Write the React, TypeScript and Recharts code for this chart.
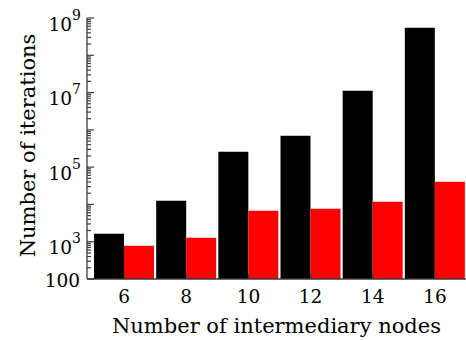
import { BarChart, Bar, XAxis, YAxis, Label } from 'recharts'

const nodes = ['6', '8', '10', '12', '14', '16']
const exactIterations = [1640, 12600, 259000, 697000, 11200000, 548000000]
const heuristicIterations = [781, 1280, 6760, 7670, 11800, 40600]

const yMin = 100
const yMax = 1e9
const labelledTicks = [100, 1e3, 1e5, 1e7, 1e9]

// log ticks: every integer multiple inside each decade, plus the top
const yTicks: number[] = []
for (let e = 2; e < 9; e++) {
  for (let m = 1; m < 10; m++) yTicks.push(m * Math.pow(10, e))
}
yTicks.push(yMax)

const FONT = "'DejaVu Serif', 'Liberation Serif', serif"
const AXIS = '#3a3a3a'
const txt = { fontFamily: FONT }

const data = nodes.map((n, i) => ({
  n,
  exact: exactIterations[i],
  heuristic: heuristicIterations[i],
}))

function YTick(props: any) {
  const { x, y, payload } = props
  const v = payload.value as number
  const lg = Math.log10(v)
  const exp = Math.round(lg)
  const major = Math.abs(lg - exp) < 1e-6
  const labelled = labelledTicks.some((t) => Math.abs(t - v) / t < 1e-6)
  return (
    <g>
      <line x1={x} x2={x + (major ? 7 : 4)} y1={y} y2={y} stroke={AXIS} strokeWidth={1.2} />
      {labelled &&
        (exp === 2 ? (
          <text x={x - 7} y={y + 8} textAnchor="end" fontSize={18.5} style={txt} fill="#000">
            100
          </text>
        ) : (
          <text x={x - 6} y={y + 12.5} textAnchor="end" fontSize={18.5} style={txt} fill="#000">
            10
            <tspan dy={-11} fontSize={14}>
              {exp}
            </tspan>
          </text>
        ))}
    </g>
  )
}

function XTick(props: any) {
  const { x, y, payload } = props
  return (
    <g>
      <line x1={x} x2={x} y1={y} y2={y - 5} stroke={AXIS} strokeWidth={1.2} />
      <text x={x} y={y + 24} textAnchor="middle" fontSize={18.5} style={txt} fill="#000">
        {payload.value}
      </text>
    </g>
  )
}

export default function App() {
  return (
    <div style={{ position: 'absolute', left: 0, top: 0 }}>
      <BarChart
        width={466}
        height={340}
        data={data}
        margin={{ top: 18, right: 0, bottom: 0, left: 0 }}
        barGap={0}
        barCategoryGap={1}
      >
        <XAxis
          dataKey="n"
          height={61}
          padding={{ left: 6, right: 0 }}
          stroke={AXIS}
          strokeWidth={1.3}
          tickLine={false}
          tickSize={0}
          tickMargin={0}
          tick={<XTick />}
          interval={0}
        >
          <Label
            content={({ viewBox }: any) => (
              <text
                x={viewBox.x + viewBox.width / 2}
                y={viewBox.y + 54}
                textAnchor="middle"
                fontSize={21}
                style={txt}
                fill="#000"
              >
                Number of intermediary nodes
              </text>
            )}
          />
        </XAxis>
        <YAxis
          type="number"
          scale="log"
          domain={[yMin, yMax]}
          allowDataOverflow
          ticks={yTicks}
          interval={0}
          width={87}
          stroke={AXIS}
          strokeWidth={1.3}
          tickLine={false}
          tickSize={0}
          tickMargin={0}
          tick={<YTick />}
        >
          <Label
            content={({ viewBox }: any) => {
              const cx = 35
              const cy = viewBox.y + viewBox.height / 2 - 3
              return (
                <text
                  x={cx}
                  y={cy}
                  transform={`rotate(-90 ${cx} ${cy})`}
                  textAnchor="middle"
                  fontSize={21}
                  style={txt}
                  fill="#000"
                >
                  Number of iterations
                </text>
              )
            }}
          />
        </YAxis>
        <Bar dataKey="exact" fill="#000000" isAnimationActive={false} />
        <Bar dataKey="heuristic" fill="#ff0000" isAnimationActive={false} />
      </BarChart>
    </div>
  )
}
